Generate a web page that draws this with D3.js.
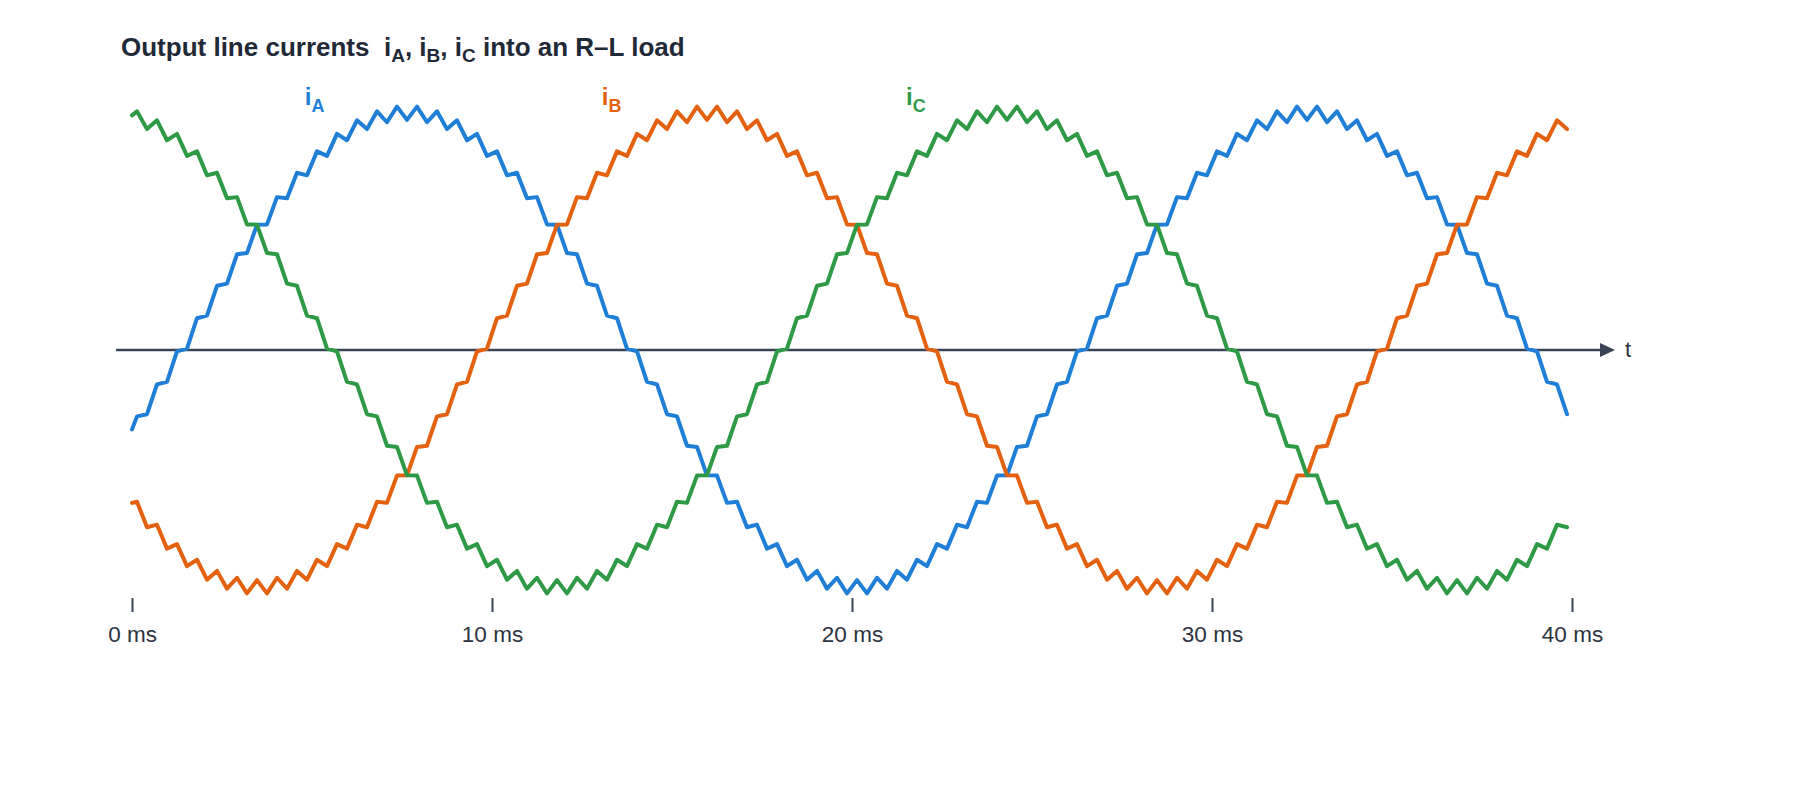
<!DOCTYPE html>
<meta charset="utf-8">
<script src="https://d3js.org/d3.v7.min.js"></script>
<style>
  body { margin: 0; background: #fff; }
  svg { font-family: "Liberation Sans", Arial, Helvetica, sans-serif; }
</style>
<div id="chart"></div>
<script>
// sample times (ms): start of the trace, then every ripple half-period
var times = [0,
  0.139, 0.417, 0.694, 0.972, 1.250, 1.528, 1.806, 2.083, 2.361,
  2.639, 2.917, 3.194, 3.472, 3.750, 4.028, 4.306, 4.583, 4.861,
  5.139, 5.417, 5.694, 5.972, 6.250, 6.528, 6.806, 7.083, 7.361,
  7.639, 7.917, 8.194, 8.472, 8.750, 9.028, 9.306, 9.583, 9.861,
  10.139, 10.417, 10.694, 10.972, 11.250, 11.528, 11.806, 12.083, 12.361,
  12.639, 12.917, 13.194, 13.472, 13.750, 14.028, 14.306, 14.583, 14.861,
  15.139, 15.417, 15.694, 15.972, 16.250, 16.528, 16.806, 17.083, 17.361,
  17.639, 17.917, 18.194, 18.472, 18.750, 19.028, 19.306, 19.583, 19.861,
  20.139, 20.417, 20.694, 20.972, 21.250, 21.528, 21.806, 22.083, 22.361,
  22.639, 22.917, 23.194, 23.472, 23.750, 24.028, 24.306, 24.583, 24.861,
  25.139, 25.417, 25.694, 25.972, 26.250, 26.528, 26.806, 27.083, 27.361,
  27.639, 27.917, 28.194, 28.472, 28.750, 29.028, 29.306, 29.583, 29.861,
  30.139, 30.417, 30.694, 30.972, 31.250, 31.528, 31.806, 32.083, 32.361,
  32.639, 32.917, 33.194, 33.472, 33.750, 34.028, 34.306, 34.583, 34.861,
  35.139, 35.417, 35.694, 35.972, 36.250, 36.528, 36.806, 37.083, 37.361,
  37.639, 37.917, 38.194, 38.472, 38.750, 39.028, 39.306, 39.583, 39.861];

// line currents, per unit of peak
var iA = [-0.335,
  -0.280, -0.271, -0.145, -0.134, -0.006, 0.006, 0.134, 0.145, 0.271, 0.280,
  0.404, 0.409, 0.529, 0.530, 0.645, 0.640, 0.748, 0.737, 0.838, 0.819,
  0.912, 0.885, 0.969, 0.932, 1.007, 0.961, 1.027, 0.971, 1.027, 0.961,
  1.007, 0.932, 0.969, 0.885, 0.912, 0.819, 0.838, 0.737, 0.748, 0.640,
  0.645, 0.530, 0.529, 0.409, 0.404, 0.280, 0.271, 0.145, 0.134, 0.006,
  -0.006, -0.134, -0.145, -0.271, -0.280, -0.404, -0.409, -0.529, -0.530, -0.645,
  -0.640, -0.748, -0.737, -0.838, -0.819, -0.912, -0.885, -0.969, -0.932, -1.007,
  -0.961, -1.027, -0.971, -1.027, -0.961, -1.007, -0.932, -0.969, -0.885, -0.912,
  -0.819, -0.838, -0.737, -0.748, -0.640, -0.645, -0.530, -0.529, -0.409, -0.404,
  -0.280, -0.271, -0.145, -0.134, -0.006, 0.006, 0.134, 0.145, 0.271, 0.280,
  0.404, 0.409, 0.529, 0.530, 0.645, 0.640, 0.748, 0.737, 0.838, 0.819,
  0.912, 0.885, 0.969, 0.932, 1.007, 0.961, 1.027, 0.971, 1.027, 0.961,
  1.007, 0.932, 0.969, 0.885, 0.912, 0.819, 0.838, 0.737, 0.748, 0.640,
  0.645, 0.530, 0.529, 0.409, 0.404, 0.280, 0.271, 0.145, 0.134, 0.006,
  -0.006, -0.134, -0.145, -0.271];

var iB = [-0.645,
  -0.640, -0.748, -0.737, -0.838, -0.819, -0.912, -0.885, -0.969, -0.932, -1.007,
  -0.961, -1.027, -0.971, -1.027, -0.961, -1.007, -0.932, -0.969, -0.885, -0.912,
  -0.819, -0.838, -0.737, -0.748, -0.640, -0.645, -0.530, -0.529, -0.409, -0.404,
  -0.280, -0.271, -0.145, -0.134, -0.006, 0.006, 0.134, 0.145, 0.271, 0.280,
  0.404, 0.409, 0.529, 0.530, 0.645, 0.640, 0.748, 0.737, 0.838, 0.819,
  0.912, 0.885, 0.969, 0.932, 1.007, 0.961, 1.027, 0.971, 1.027, 0.961,
  1.007, 0.932, 0.969, 0.885, 0.912, 0.819, 0.838, 0.737, 0.748, 0.640,
  0.645, 0.530, 0.529, 0.409, 0.404, 0.280, 0.271, 0.145, 0.134, 0.006,
  -0.006, -0.134, -0.145, -0.271, -0.280, -0.404, -0.409, -0.529, -0.530, -0.645,
  -0.640, -0.748, -0.737, -0.838, -0.819, -0.912, -0.885, -0.969, -0.932, -1.007,
  -0.961, -1.027, -0.971, -1.027, -0.961, -1.007, -0.932, -0.969, -0.885, -0.912,
  -0.819, -0.838, -0.737, -0.748, -0.640, -0.645, -0.530, -0.529, -0.409, -0.404,
  -0.280, -0.271, -0.145, -0.134, -0.006, 0.006, 0.134, 0.145, 0.271, 0.280,
  0.404, 0.409, 0.529, 0.530, 0.645, 0.640, 0.748, 0.737, 0.838, 0.819,
  0.912, 0.885, 0.969, 0.932];

var iC = [0.99,
  1.007, 0.932, 0.969, 0.885, 0.912, 0.819, 0.838, 0.737, 0.748, 0.640,
  0.645, 0.530, 0.529, 0.409, 0.404, 0.280, 0.271, 0.145, 0.134, 0.006,
  -0.006, -0.134, -0.145, -0.271, -0.280, -0.404, -0.409, -0.529, -0.530, -0.645,
  -0.640, -0.748, -0.737, -0.838, -0.819, -0.912, -0.885, -0.969, -0.932, -1.007,
  -0.961, -1.027, -0.971, -1.027, -0.961, -1.007, -0.932, -0.969, -0.885, -0.912,
  -0.819, -0.838, -0.737, -0.748, -0.640, -0.645, -0.530, -0.529, -0.409, -0.404,
  -0.280, -0.271, -0.145, -0.134, -0.006, 0.006, 0.134, 0.145, 0.271, 0.280,
  0.404, 0.409, 0.529, 0.530, 0.645, 0.640, 0.748, 0.737, 0.838, 0.819,
  0.912, 0.885, 0.969, 0.932, 1.007, 0.961, 1.027, 0.971, 1.027, 0.961,
  1.007, 0.932, 0.969, 0.885, 0.912, 0.819, 0.838, 0.737, 0.748, 0.640,
  0.645, 0.530, 0.529, 0.409, 0.404, 0.280, 0.271, 0.145, 0.134, 0.006,
  -0.006, -0.134, -0.145, -0.271, -0.280, -0.404, -0.409, -0.529, -0.530, -0.645,
  -0.640, -0.748, -0.737, -0.838, -0.819, -0.912, -0.885, -0.969, -0.932, -1.007,
  -0.961, -1.027, -0.971, -1.027, -0.961, -1.007, -0.932, -0.969, -0.885, -0.912,
  -0.819, -0.838, -0.737, -0.748];

var tickValues = [0, 10, 20, 30, 40];
var seriesNames = ["A", "B", "C"];
var seriesColors = ["#1f7fd6", "#e4620f", "#2e9a45"];
var labelTimes = [4.8, 13.05, 21.5];   // where each name sits along t

var series = [iA, iB, iC].map(function(vals, i) {
  return {
    name: seriesNames[i],
    color: seriesColors[i],
    values: vals.map(function(v, k) { return {t: times[k], v: v}; })
  };
});

var width = 1800, height = 800;
var axisColor = "#394455";

var svg = d3.select("#chart").append("svg")
  .attr("width", width)
  .attr("height", height);

var x = d3.scaleLinear().domain([0, 40]).range([132, 1572]);
var y = d3.scaleLinear().domain([-1, 1]).range([587, 113]);

// title
var title = svg.append("text")
  .attr("x", 121)
  .attr("y", 56)
  .style("font-size", "26px")
  .style("font-weight", "bold")
  .style("fill", "#1f2937")
  .style("white-space", "pre");
title.append("tspan").text("Output line currents  i");
title.append("tspan").attr("dy", 6).style("font-size", "19px").text("A");
title.append("tspan").attr("dy", -6).text(", i");
title.append("tspan").attr("dy", 6).style("font-size", "19px").text("B");
title.append("tspan").attr("dy", -6).text(", i");
title.append("tspan").attr("dy", 6).style("font-size", "19px").text("C");
title.append("tspan").attr("dy", -6).text(" into an R\u2013L load");

// time axis with arrow
svg.append("line")
  .attr("x1", 116).attr("x2", 1602)
  .attr("y1", y(0)).attr("y2", y(0))
  .attr("stroke", axisColor)
  .attr("stroke-width", 2.5);
svg.append("path")
  .attr("d", "M1600," + (y(0) - 7) + "L1615," + y(0) + "L1600," + (y(0) + 7) + "Z")
  .attr("fill", axisColor);
svg.append("text")
  .attr("x", 1625)
  .attr("y", y(0) + 7)
  .style("font-size", "22px")
  .style("fill", "#2d3340")
  .text("t");

// ticks below the traces
var xAxis = svg.append("g")
  .attr("transform", "translate(0,598)")
  .call(d3.axisBottom(x)
    .tickValues(tickValues)
    .tickSize(14)
    .tickFormat(function(d) { return d + " ms"; }));
xAxis.select(".domain").remove();
xAxis.selectAll(".tick line")
  .attr("stroke", axisColor)
  .attr("stroke-width", 2);
xAxis.selectAll(".tick text")
  .attr("y", 44)
  .attr("dy", null)
  .style("font-size", "22.5px")
  .style("font-family", "\"Liberation Sans\", Arial, Helvetica, sans-serif")
  .style("fill", "#2d3340");

// traces
var line = d3.line()
  .x(function(d) { return x(d.t); })
  .y(function(d) { return y(d.v); });

svg.selectAll(".trace")
  .data(series)
  .enter()
  .append("path")
  .attr("class", "trace")
  .attr("d", function(d) { return line(d.values); })
  .attr("fill", "none")
  .attr("stroke", function(d) { return d.color; })
  .attr("stroke-width", 4)
  .attr("stroke-linejoin", "round")
  .attr("stroke-linecap", "round");

// trace names
var names = svg.selectAll(".name")
  .data(series)
  .enter()
  .append("text")
  .attr("class", "name")
  .attr("x", function(d, i) { return x(labelTimes[i]); })
  .attr("y", 105)
  .style("font-size", "24px")
  .style("font-weight", "bold")
  .style("fill", function(d) { return d.color; });
names.append("tspan").text("i");
names.append("tspan")
  .attr("dy", 7)
  .style("font-size", "18px")
  .text(function(d) { return d.name; });
</script>
